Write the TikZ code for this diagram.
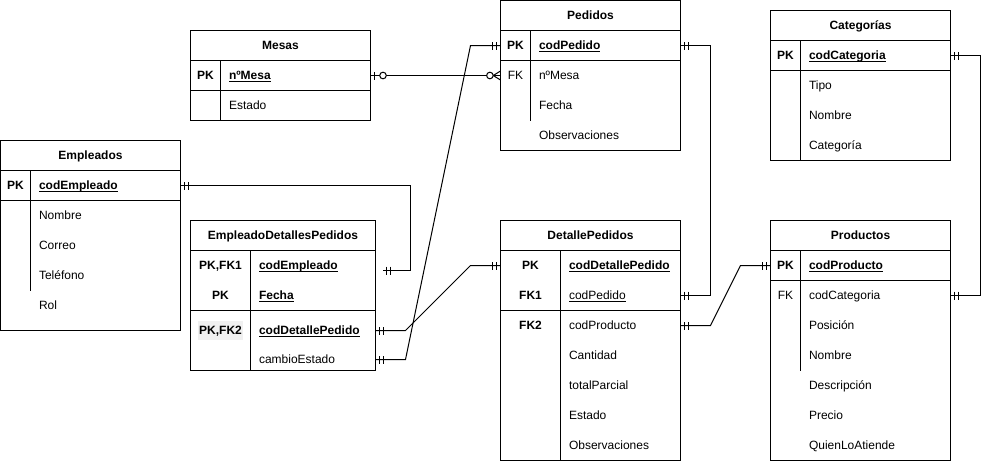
\documentclass[tikz,border=0pt]{standalone}
\usepackage{fontspec}
\setmainfont{Liberation Sans}
\usetikzlibrary{decorations.markings}
\newcommand{\erfont}{\fontsize{12pt}{14pt}\selectfont}
\newsavebox{\subbox}
\newcommand{\subr}[1]{\sbox\subbox{#1}\rlap{\rule[-1.9pt]{\wd\subbox}{0.9pt}}\usebox\subbox}
\tikzset{
  tabla/.style={draw, fill=white, anchor=north west, inner sep=0pt, outer sep=0pt},
  texto/.style={font=\erfont, inner sep=0pt, text height=10pt, text depth=2pt},
  titulo/.style={texto, font=\erfont\bfseries},
  clave/.style={texto, font=\erfont\bfseries},
  campo/.style={texto, anchor=west},
  % marcas de cardinalidad
  uno ini/.style={postaction={decorate,decoration={markings,
      mark=at position 4pt with {\draw (0,-4pt) -- (0,4pt);},
      mark=at position 8pt with {\draw (0,-4pt) -- (0,4pt);}}}},
  uno fin/.style={postaction={decorate,decoration={markings,
      mark=at position -4pt with {\draw (0,-4pt) -- (0,4pt);},
      mark=at position -8pt with {\draw (0,-4pt) -- (0,4pt);}}}},
  ceroUno ini/.style={postaction={decorate,decoration={markings,
      mark=at position 4pt with {\draw (0,-4pt) -- (0,4pt);},
      mark=at position 12.5pt with {\draw[fill=white] (0,0) circle[radius=3.3pt];}}}},
  ceroMuchos fin/.style={postaction={decorate,decoration={markings,
      mark=at position -7.3pt with {\draw (0,0) -- (7.3pt,4.5pt) (0,0) -- (7.3pt,-4.5pt);},
      mark=at position -10.6pt with {\draw[fill=white] (0,0) circle[radius=3.3pt];}}}},
}
\begin{document}
\begin{tikzpicture}[x=1pt,y=-1pt,line width=1pt]
  \useasboundingbox (-0.5,-0.5) rectangle (989.5,460.5);

  % Mesas
  \node[tabla, minimum width=180pt, minimum height=90pt] (mesas) at (190,30) {};
  \draw (190,60) -- (370,60) (190,90) -- (370,90) (220,60) -- (220,120);
  \node[titulo] (mesT) at (280,45) {Mesas};
  \node[clave] (mesPK) at (205,75) {PK};
  \node[campo] (mesNum) at (228,75) {\subr{\textbf{nºMesa}}};
  \node[campo] (mesEst) at (228,105) {Estado};

  % Pedidos
  \node[tabla, minimum width=180pt, minimum height=150pt] (pedidos) at (500,0) {};
  \draw (500,30) -- (680,30) (500,60) -- (680,60) (530,30) -- (530,120);
  \node[titulo] (pedT) at (590,15) {Pedidos};
  \node[clave] (pedPK) at (515,45) {PK};
  \node[texto] (pedFK) at (515,75) {FK};
  \node[campo] (pedCod) at (538,45) {\subr{\textbf{codPedido}}};
  \node[campo] (pedNum) at (538,75) {nºMesa};
  \foreach \yy/\nom in {105/Fecha,135/Observaciones}
    \node[campo] (ped\yy) at (538,\yy) {\nom};

  % Empleados
  \node[tabla, minimum width=180pt, minimum height=190pt] (empleados) at (0,140) {};
  \draw (0,170) -- (180,170) (0,200) -- (180,200) (30,170) -- (30,290);
  \node[titulo] (empT) at (90,155) {Empleados};
  \node[clave] (empPK) at (15,185) {PK};
  \node[campo] (empCod) at (38,185) {\subr{\textbf{codEmpleado}}};
  \foreach \yy/\nom in {215/Nombre,245/Correo,275/Teléfono,305/Rol}
    \node[campo] (emp\yy) at (38,\yy) {\nom};

  % EmpleadoDetallesPedidos
  \node[tabla, minimum width=185pt, minimum height=150pt] (edp) at (190,220) {};
  \draw (190,250) -- (375,250) (190,310) -- (375,310) (250,250) -- (250,370);
  \node[titulo] (edpT) at (282.5,235) {EmpleadoDetallesPedidos};
  \node[clave] (edpK1) at (220,265) {PK,FK1};
  \node[clave] (edpK2) at (220,295) {PK};
  \node[clave, fill=black!6, inner xsep=1pt, inner ysep=3.5pt] (edpK3) at (220,330) {PK,FK2};
  \node[campo] (edpEmp) at (258,265) {\subr{\textbf{codEmpleado}}};
  \node[campo] (edpFec) at (258,295) {\subr{\textbf{Fecha}}};
  \node[campo] (edpDet) at (258,330) {\subr{\textbf{codDetallePedido}}};
  \node[campo] (edpCam) at (258,359) {cambioEstado};
  \coordinate (edpEmpFin) at (382,270);

  % DetallePedidos
  \node[tabla, minimum width=180pt, minimum height=240pt] (detalle) at (500,220) {};
  \draw (500,250) -- (680,250) (500,310) -- (680,310) (560,250) -- (560,460);
  \node[titulo] (detT) at (590,235) {DetallePedidos};
  \node[clave] (detK1) at (530,265) {PK};
  \node[clave] (detK2) at (530,295) {FK1};
  \node[clave] (detK3) at (530,325) {FK2};
  \node[campo] (detCod) at (568,265) {\subr{\textbf{codDetallePedido}}};
  \node[campo] (detPed) at (568,295) {\subr{codPedido}};
  \node[campo] (detProd) at (568,325) {codProducto};
  \foreach \yy/\nom in {355/Cantidad,385/totalParcial,415/Estado,445/Observaciones}
    \node[campo] (det\yy) at (568,\yy) {\nom};

  % Productos
  \node[tabla, minimum width=180pt, minimum height=240pt] (productos) at (770,220) {};
  \draw (770,250) -- (950,250) (770,280) -- (950,280) (800,250) -- (800,370);
  \node[titulo] (proT) at (860,235) {Productos};
  \node[clave] (proPK) at (785,265) {PK};
  \node[texto] (proFK) at (785,295) {FK};
  \node[campo] (prodCod) at (808,265) {\subr{\textbf{codProducto}}};
  \node[campo] (prodCat) at (808,295) {codCategoria};
  \foreach \yy/\nom in {325/Posición,355/Nombre,385/Descripción,415/Precio,445/QuienLoAtiende}
    \node[campo] (pro\yy) at (808,\yy) {\nom};

  % Categorias
  \node[tabla, minimum width=180pt, minimum height=150pt] (categorias) at (770,10) {};
  \draw (770,40) -- (950,40) (770,70) -- (950,70) (800,40) -- (800,160);
  \node[titulo] (catT) at (860,25) {Categorías};
  \node[clave] (catPK) at (785,55) {PK};
  \node[campo] (catCod) at (808,55) {\subr{\textbf{codCategoria}}};
  \foreach \yy/\nom in {85/Tipo,115/Nombre,145/Categoría}
    \node[campo] (cat\yy) at (808,\yy) {\nom};

  % relaciones
  \draw[ceroUno ini, ceroMuchos fin] (mesas.east |- mesNum) -- (pedidos.west |- pedNum);
  \draw[uno ini, uno fin] (edp.east |- edpCam) -- ++(30,0)
    -- ([xshift=-30pt]pedidos.west |- pedCod) -- (pedidos.west |- pedCod);
  \draw[uno ini, uno fin] (edp.east |- edpDet) -- ++(30,0)
    -- ([xshift=-30pt]detalle.west |- detCod) -- (detalle.west |- detCod);
  \draw[uno ini, uno fin] (empleados.east |- empCod) -| ([xshift=28pt]edpEmpFin) -- (edpEmpFin);
  \draw[uno ini, uno fin] (pedidos.east |- pedCod) -- ++(30,0) |- (detalle.east |- detPed);
  \draw[uno ini, uno fin] (detalle.east |- detProd) -- ++(30,0)
    -- ([xshift=-30pt]productos.west |- prodCod) -- (productos.west |- prodCod);
  \draw[uno ini, uno fin] (categorias.east |- catCod) -- ++(30,0) |- (productos.east |- prodCat);
\end{tikzpicture}
\end{document}
